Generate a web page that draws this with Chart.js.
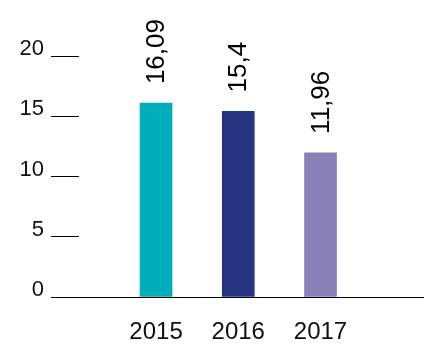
<!DOCTYPE html>
<html>
<head>
<meta charset="utf-8">
<script src="https://cdn.jsdelivr.net/npm/chart.js@4.4.1/dist/chart.umd.min.js"></script>
<style>
  html, body { margin: 0; padding: 0; background: #ffffff; }
  #wrap { width: 441px; height: 357px; }
</style>
</head>
<body>
<div id="wrap"><canvas id="c" width="441" height="357"></canvas></div>
<script>
// ---- data ----
const years = ['2015', '2016', '2017'];
const values = [16.09, 15.4, 11.96];
const valueLabels = ['16,09', '15,4', '11,96'];
const barColors = ['#00AEBB', '#253380', '#897FB9'];
const yTicks = [0, 5, 10, 15, 20];

const FONT = '"Liberation Sans", Arial, Helvetica, sans-serif';

const valueLabelPlugin = {
  id: 'valueLabels',
  afterDatasetsDraw(chart) {
    const ctx = chart.ctx;
    const meta = chart.getDatasetMeta(0);
    ctx.save();
    ctx.fillStyle = '#000000';
    ctx.font = '26px ' + FONT;
    ctx.textAlign = 'left';
    ctx.textBaseline = 'middle';
    meta.data.forEach((bar, i) => {
      ctx.save();
      ctx.translate(bar.x + 1, bar.y - 19);
      ctx.rotate(-Math.PI / 2);
      ctx.fillText(valueLabels[i], 0, 0);
      ctx.restore();
    });
    ctx.restore();
  }
};

new Chart(document.getElementById('c'), {
  type: 'bar',
  data: {
    datasets: [{
      data: values.map((v, i) => ({ x: i, y: v })),
      backgroundColor: barColors,
      borderWidth: 0,
      barThickness: 32
    }]
  },
  options: {
    responsive: false,
    animation: false,
    events: [],
    layout: { padding: { left: 0, right: 18, top: 56, bottom: 12 } },
    plugins: { legend: { display: false }, tooltip: { enabled: false } },
    scales: {
      x: {
        type: 'linear',
        offset: false,
        bounds: 'data',
        min: -1.277,
        max: 3.246,
        afterBuildTicks: (scale) => { scale.ticks = years.map((y, i) => ({ value: i })); },
        afterFit: (scale) => { scale.height = 48; },
        ticks: {
          autoSkip: false,
          maxRotation: 0,
          padding: 21,
          color: '#111111',
          font: { family: FONT, size: 24 },
          callback: (v) => years[v]
        },
        grid: { display: false, drawTicks: false },
        border: { display: true, color: '#000000', width: 1 }
      },
      y: {
        min: 0,
        max: 20,
        afterBuildTicks: (scale) => { scale.ticks = yTicks.map(v => ({ value: v })); },
        afterFit: (scale) => { scale.width = 51; },
        ticks: {
          padding: 7,
          labelOffset: -7,
          color: '#111111',
          font: { family: FONT, size: 22 }
        },
        grid: { display: true, drawTicks: false, color: '#000000', lineWidth: 1 },
        border: { display: false, dash: [28, 2000] }
      }
    }
  },
  plugins: [valueLabelPlugin]
});
</script>
</body>
</html>
